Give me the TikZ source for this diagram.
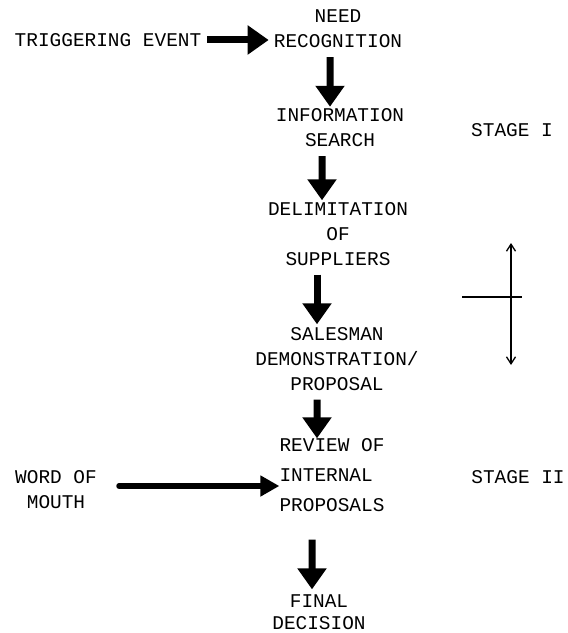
\documentclass[tikz,border=0pt]{standalone}
\usepackage{fontspec}
\setmonofont{Liberation Mono}
\usetikzlibrary{arrows.meta}
\begin{document}
\begin{tikzpicture}[x=1bp,y=-1bp,
  lbl/.style={font=\ttfamily\fontsize{19.5}{25}\selectfont, inner sep=0pt, align=center},
  bigarrow/.style={line width=7bp, -{Triangle[width=28bp,length=21bp]}},
  longarrow/.style={line width=5.5bp, line cap=round, -{Triangle[width=20bp,length=19bp]}},
  thinarrow/.style={line width=1.3bp, {Straight Barb[length=7bp,width=9bp]}-{Straight Barb[length=7bp,width=9bp]}},
  thinline/.style={line width=1.3bp}]
\useasboundingbox (0,0) rectangle (568,633);
\node[lbl] (need) at (338,29) {NEED\\RECOGNITION};
\node[lbl] (trig) at (108,40) {TRIGGERING EVENT};
\node[lbl] (info) at (340,128) {INFORMATION\\SEARCH};
\node[lbl] (stage1) at (512,130) {STAGE I};
\node[lbl] (delim) at (338,234) {DELIMITATION\\OF\\SUPPLIERS};
\node[lbl] (sales) at (337,359) {SALESMAN\\DEMONSTRATION/\\PROPOSAL};
\node[lbl, align=left, font=\ttfamily\fontsize{19.5}{30}\selectfont] (review) at (332,475) {REVIEW OF\\INTERNAL\\PROPOSALS};
\node[lbl] (word) at (56,490) {WORD OF\\MOUTH};
\node[lbl] (stage2) at (518,477) {STAGE II};
\node[lbl, font=\ttfamily\fontsize{19.5}{22}\selectfont] (final) at (319,612) {FINAL\\DECISION};
% thick arrows
\draw[bigarrow] ([xshift=6bp]trig.east) -- ([xshift=-5bp]need.west |- trig.east);
\draw[bigarrow] ([xshift=-8bp]need.south) ++(0,9) -- ([xshift=-10bp,yshift=2bp]info.north) ;
\draw[bigarrow] ([xshift=-18bp]info.south) ++(0,9) -- ([xshift=-16bp,yshift=2bp]delim.north);
\draw[bigarrow] ([xshift=-21bp]delim.south) ++(0,9) -- ([xshift=-20bp,yshift=3bp]sales.north);
\draw[bigarrow] ([xshift=-20bp]sales.south) ++(0,9) -- ([xshift=-15bp,yshift=0bp]review.north);
\draw[bigarrow] ([xshift=-20bp]review.south) ++(0,28) -- ([xshift=-7bp,yshift=5bp]final.north);
\draw[longarrow] (word.east) ++(22,-4) -- (review.west |- 0,486);
% stage marker
\coordinate (vt) at (511,243);
\coordinate (vb) at (511,365);
\coordinate (hl) at (462,297);
\coordinate (hr) at (522,297);
\draw[thinarrow] (vt) -- (vb);
\draw[thinline] (hl) -- (hr);
\end{tikzpicture}
\end{document}
